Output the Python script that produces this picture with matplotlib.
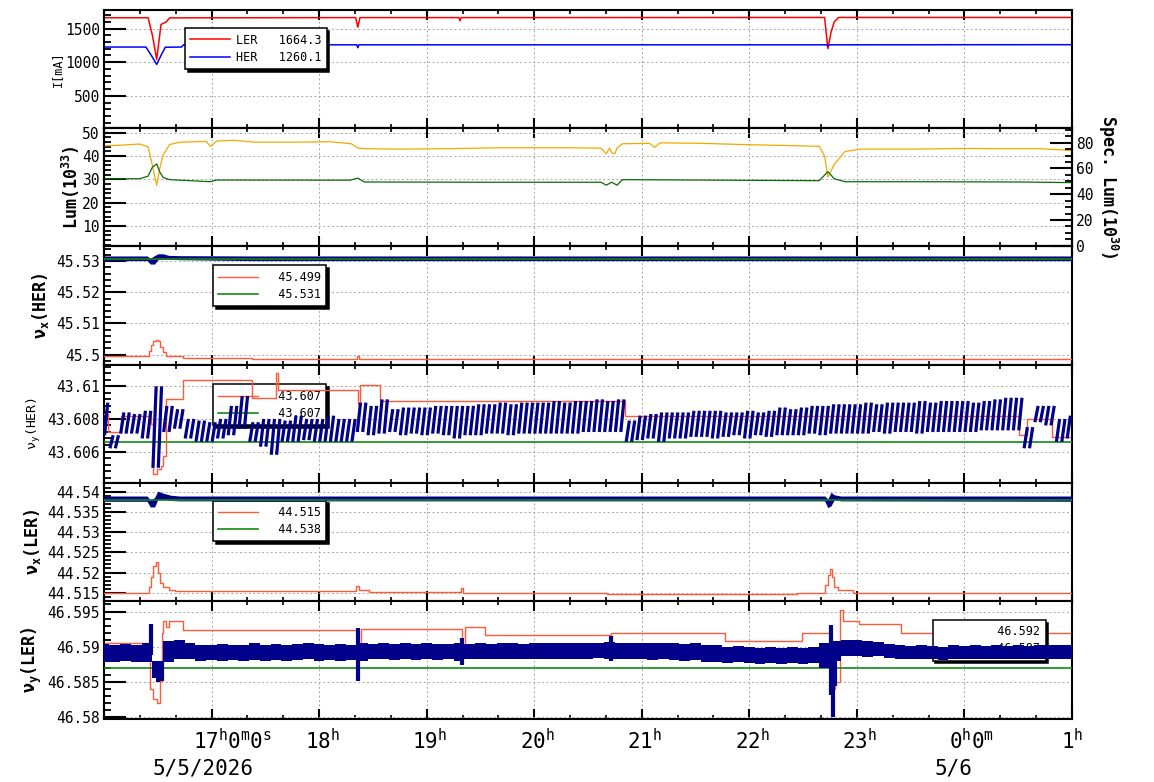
import numpy as np
import matplotlib
matplotlib.use('Agg')
import matplotlib.pyplot as plt
from matplotlib.ticker import MultipleLocator, FormatStrFormatter
from matplotlib.collections import LineCollection

plt.rcParams['font.family'] = ['DejaVu Sans Mono', 'DejaVu Sans']
plt.rcParams['mathtext.fontset'] = 'custom'
plt.rcParams['mathtext.rm'] = 'DejaVu Sans Mono'
plt.rcParams['mathtext.it'] = 'DejaVu Sans Mono'
plt.rcParams['mathtext.bf'] = 'DejaVu Sans Mono:bold'

# ---- data (time in hours from 5/5 0:00) ----
# beam currents
ler_t = [16.0, 16.41, 16.45, 16.49, 16.53, 16.58, 16.61, 18.34, 18.36, 18.38, 19.30, 19.31, 19.32,
         22.70, 22.73, 22.76, 22.79, 22.83, 25.0]
ler_i = [1660, 1660, 1400, 1040, 1560, 1600, 1658, 1662, 1520, 1662, 1662, 1615, 1662,
         1664, 1200, 1450, 1600, 1664, 1664]
her_t = [16.0, 16.39, 16.44, 16.49, 16.53, 16.57, 16.72, 16.74, 18.35, 18.36, 18.37, 22.72, 22.73, 22.75, 25.0]
her_i = [1225, 1225, 1100, 966, 1100, 1222, 1225, 1258, 1258, 1215, 1258, 1258, 1240, 1258, 1260]

# luminosity (left) and specific luminosity (right)
lum_t = [16.0, 16.2, 16.33, 16.41, 16.45, 16.49, 16.52, 16.55, 16.61, 16.71,
         16.95, 16.99, 17.05, 17.2, 17.4, 17.8, 18.1, 18.3, 18.36, 18.42,
         18.75, 19.2, 19.7, 20.3, 20.62, 20.67, 20.7, 20.72, 20.75, 20.77,
         20.82, 21.07, 21.12, 21.17, 21.54, 22.0, 22.4, 22.65, 22.70, 22.73,
         22.79, 22.89, 23.03, 23.5, 24.0, 24.33, 24.7, 25.0]
lum = [44.4, 44.8, 45.2, 44.0, 36.0, 27.5, 35.0, 40.6, 45.0, 46.0,
       46.3, 44.2, 46.5, 46.8, 46.0, 46.0, 46.2, 45.3, 43.5, 43.2,
       43.0, 43.2, 43.6, 43.6, 43.4, 41.0, 43.5, 41.5, 41.0, 43.5,
       45.3, 45.5, 43.8, 45.7, 45.5, 44.9, 44.5, 44.2, 40.0, 31.0,
       36.5, 42.0, 43.0, 43.0, 43.3, 43.2, 43.2, 42.4]
sl_t = [16.0, 16.33, 16.41, 16.45, 16.49, 16.52, 16.55, 16.61, 16.99, 17.05,
        18.29, 18.36, 18.42, 19.5, 20.62, 20.67, 20.72, 20.77, 20.82, 21.5,
        22.65, 22.73, 22.79, 22.89, 23.5, 24.5, 25.0]
spec_lum = [52.0, 52.0, 54.0, 61.0, 63.5, 57.0, 53.0, 51.3, 49.7, 51.0,
            50.9, 52.5, 49.5, 49.3, 49.3, 47.0, 49.3, 47.0, 51.3, 51.0,
            50.5, 57.5, 52.0, 49.7, 49.7, 49.5, 49.0]

# nu_x HER
hx_red_t = [16.0, 16.42, 16.44, 16.46, 16.48, 16.5, 16.52, 16.55, 16.58, 16.73, 17.38, 18.35, 18.37, 25.0]
hx_red = [45.4994, 45.5010, 45.5030, 45.5044, 45.5048, 45.5042, 45.5025, 45.5008, 45.4996, 45.4988,
          45.4985, 45.4995, 45.4985, 45.4985]
hx_ref = 45.5306
hx_t = [16.0, 16.40, 16.43, 16.47, 16.5, 16.55, 16.6, 16.7, 17.4, 25.0]
hx_lo = [45.5302, 45.5302, 45.5291, 45.5291, 45.5305, 45.5307, 45.5307, 45.5305, 45.5302, 45.5302]
hx_hi = [45.5317, 45.5317, 45.5310, 45.5318, 45.5324, 45.5324, 45.5319, 45.5318, 45.5317, 45.5317]

# nu_y HER
hy_red_t = [16.0, 16.04, 16.16, 16.44, 16.46, 16.49, 16.53, 16.55, 16.58, 16.73, 17.38, 17.60, 17.62,
            18.36, 18.38, 18.57, 20.84, 24.51, 24.58, 24.81, 25.0]
hy_red = [43.6083, 43.6072, 43.6082, 43.6077, 43.6046, 43.6049, 43.6051, 43.6057, 43.6092, 43.6104,
          43.6093, 43.6108, 43.6098, 43.6089, 43.6101, 43.6091, 43.6082, 43.6070, 43.6080, 43.6069, 43.6069]
hy_ref = 43.6066
t_grid = np.linspace(16.0, 25.0, 91)  # 6 minute samples
hy_lo = [43.6070, 43.6062, 43.6071, 43.6071, 43.6068, 43.6050, 43.6072, 43.6074, 43.6068, 43.6066,
         43.6066, 43.6068, 43.6070, 43.6074, 43.6066, 43.6063, 43.6058, 43.6066, 43.6066, 43.6067,
         43.6066, 43.6066, 43.6066, 43.6066, 43.6072, 43.6070, 43.6071, 43.6072, 43.6070, 43.6071,
         43.6070, 43.6071, 43.6070, 43.6068, 43.6070, 43.6070, 43.6071, 43.6071, 43.6070, 43.6071,
         43.6071, 43.6071, 43.6071, 43.6071, 43.6071, 43.6072, 43.6072, 43.6072, 43.6072, 43.6066,
         43.6067, 43.6068, 43.6066, 43.6068, 43.6068, 43.6069, 43.6069, 43.6068, 43.6069, 43.6070,
         43.6068, 43.6070, 43.6069, 43.6070, 43.6070, 43.6070, 43.6071, 43.6070, 43.6071, 43.6071,
         43.6071, 43.6071, 43.6072, 43.6071, 43.6072, 43.6072, 43.6071, 43.6072, 43.6072, 43.6072,
         43.6072, 43.6072, 43.6073, 43.6073, 43.6073, 43.6073, 43.6062, 43.6078, 43.6076, 43.6066,
         43.6068]
hy_hi = [43.6090, 43.6070, 43.6084, 43.6083, 43.6085, 43.6100, 43.6088, 43.6086, 43.6080, 43.6079,
         43.6078, 43.6080, 43.6088, 43.6094, 43.6078, 43.6080, 43.6080, 43.6079, 43.6082, 43.6080,
         43.6080, 43.6082, 43.6080, 43.6080, 43.6090, 43.6088, 43.6092, 43.6086, 43.6087, 43.6087,
         43.6087, 43.6088, 43.6088, 43.6088, 43.6088, 43.6089, 43.6089, 43.6090, 43.6089, 43.6090,
         43.6090, 43.6090, 43.6091, 43.6090, 43.6091, 43.6091, 43.6092, 43.6091, 43.6092, 43.6079,
         43.6082, 43.6083, 43.6084, 43.6084, 43.6084, 43.6085, 43.6085, 43.6085, 43.6084, 43.6084,
         43.6085, 43.6084, 43.6085, 43.6087, 43.6086, 43.6087, 43.6088, 43.6088, 43.6089, 43.6089,
         43.6089, 43.6090, 43.6089, 43.6090, 43.6090, 43.6090, 43.6091, 43.6090, 43.6091, 43.6091,
         43.6091, 43.6090, 43.6091, 43.6092, 43.6093, 43.6093, 43.6075, 43.6088, 43.6088, 43.6080,
         43.6082]

# nu_x LER
lx_red_t = [16.0, 16.42, 16.44, 16.46, 16.48, 16.5, 16.52, 16.55, 16.6, 16.66, 18.34, 18.37, 18.46,
            19.32, 19.34, 20.68, 22.44, 22.70, 22.73, 22.75, 22.77, 22.79, 22.82, 22.96, 25.0]
lx_red = [44.5149, 44.5165, 44.5190, 44.5215, 44.5226, 44.5200, 44.5175, 44.5164, 44.5158, 44.5154,
          44.5167, 44.5156, 44.5151, 44.5161, 44.5149, 44.5146, 44.5149, 44.5170, 44.5195, 44.5208,
          44.5190, 44.5165, 44.5156, 44.5149, 44.5149]
lx_ref = 44.5378
lx_t = [16.0, 16.40, 16.43, 16.47, 16.5, 16.55, 16.62, 16.7, 22.70, 22.73, 22.76, 22.79, 22.85, 25.0]
lx_lo = [44.5376, 44.5376, 44.5362, 44.5362, 44.5380, 44.5380, 44.5378, 44.5377, 44.5377, 44.5360,
         44.5365, 44.5380, 44.5377, 44.5376]
lx_hi = [44.5389, 44.5389, 44.5380, 44.5385, 44.5401, 44.5396, 44.5391, 44.5389, 44.5389, 44.5382,
         44.5398, 44.5392, 44.5389, 44.5389]

# nu_y LER
ly_red_t = [16.0, 16.43, 16.46, 16.49, 16.52, 16.54, 16.55, 16.58, 16.60, 16.73, 18.35, 18.39,
            19.33, 19.36, 19.54, 20.71, 21.77, 22.49, 22.76, 22.78, 22.80, 22.84, 22.87, 23.02, 23.41, 25.0]
ly_red = [46.5906, 46.5840, 46.5826, 46.5821, 46.5851, 46.5920, 46.5937, 46.5928, 46.5937, 46.5924,
          46.5888, 46.5925, 46.5902, 46.5928, 46.5917, 46.5919, 46.5908, 46.5919, 46.5876, 46.5840,
          46.5850, 46.5952, 46.5937, 46.5932, 46.5920, 46.5920]
ly_ref = 46.5870
ly_lo = [46.5879, 46.5878, 46.5880, 46.5879, 46.5878, 46.5856, 46.5878, 46.5882, 46.5882, 46.5880,
         46.5881, 46.5880, 46.5881, 46.5880, 46.5881, 46.5880, 46.5881, 46.5880, 46.5881, 46.5882,
         46.5880, 46.5881, 46.5880, 46.5881, 46.5880, 46.5882, 46.5882, 46.5881, 46.5882, 46.5881,
         46.5882, 46.5881, 46.5882, 46.5880, 46.5882, 46.5883, 46.5882, 46.5883, 46.5882, 46.5883,
         46.5883, 46.5882, 46.5883, 46.5882, 46.5883, 46.5883, 46.5884, 46.5883, 46.5882, 46.5883,
         46.5882, 46.5881, 46.5882, 46.5881, 46.5880, 46.5881, 46.5879, 46.5878, 46.5877, 46.5878,
         46.5877, 46.5876, 46.5877, 46.5876, 46.5877, 46.5876, 46.5877, 46.5870, 46.5880, 46.5887,
         46.5887, 46.5886, 46.5887, 46.5884, 46.5883, 46.5882, 46.5883, 46.5882, 46.5881, 46.5882,
         46.5882, 46.5883, 46.5882, 46.5883, 46.5882, 46.5883, 46.5882, 46.5883, 46.5882, 46.5883,
         46.5883]
ly_hi = [46.5904, 46.5903, 46.5904, 46.5903, 46.5905, 46.5880, 46.5908, 46.5910, 46.5905, 46.5903,
         46.5902, 46.5904, 46.5903, 46.5903, 46.5905, 46.5903, 46.5904, 46.5902, 46.5904, 46.5905,
         46.5904, 46.5903, 46.5904, 46.5903, 46.5906, 46.5904, 46.5905, 46.5904, 46.5905, 46.5904,
         46.5905, 46.5904, 46.5904, 46.5906, 46.5904, 46.5905, 46.5904, 46.5905, 46.5905, 46.5904,
         46.5905, 46.5906, 46.5905, 46.5906, 46.5905, 46.5906, 46.5906, 46.5907, 46.5906, 46.5905,
         46.5906, 46.5905, 46.5905, 46.5906, 46.5904, 46.5905, 46.5903, 46.5902, 46.5900, 46.5901,
         46.5900, 46.5899, 46.5900, 46.5899, 46.5900, 46.5899, 46.5900, 46.5905, 46.5908, 46.5909,
         46.5909, 46.5908, 46.5907, 46.5904, 46.5902, 46.5901, 46.5902, 46.5901, 46.5900, 46.5902,
         46.5901, 46.5902, 46.5901, 46.5902, 46.5901, 46.5902, 46.5901, 46.5902, 46.5902, 46.5903,
         46.5903]
ly_sp_t = [16.44, 16.50, 16.54, 18.36, 19.33, 20.71, 22.76, 22.78, 22.80]
ly_sp_lo = [46.5888, 46.5850, 46.5852, 46.5852, 46.5874, 46.5880, 46.5832, 46.5800, 46.5845]
ly_sp_hi = [46.5933, 46.5872, 46.5880, 46.5927, 46.5912, 46.5915, 46.5931, 46.5862, 46.5880]

tick_hours = [17, 18, 19, 20, 21, 22, 23, 24, 25]
tick_text = [r'17$^{\mathrm{h}}$0$^{\mathrm{m}}$0$^{\mathrm{s}}$', r'18$^{\mathrm{h}}$', r'19$^{\mathrm{h}}$',
             r'20$^{\mathrm{h}}$', r'21$^{\mathrm{h}}$', r'22$^{\mathrm{h}}$', r'23$^{\mathrm{h}}$',
             r'0$^{\mathrm{h}}$0$^{\mathrm{m}}$', r'1$^{\mathrm{h}}$']

RED = '#ff5a3c'
GREEN = '#128a12'
NAVY = '#00008b'

# ---- figure ----
fig = plt.figure(figsize=(11.54, 7.82), dpi=100)
gs = fig.add_gridspec(6, 1, left=104 / 1154, right=1072 / 1154, top=1 - 10 / 782,
                      bottom=1 - 719 / 782, hspace=0)
axes = [fig.add_subplot(gs[0])]
for i in range(1, 6):
    axes.append(fig.add_subplot(gs[i], sharex=axes[0]))


def style(ax, ylim, major, minor):
    ax.set_xlim(16, 25)
    ax.set_ylim(*ylim)
    ax.xaxis.set_major_locator(MultipleLocator(1))
    ax.xaxis.set_minor_locator(MultipleLocator(1 / 3))
    ax.yaxis.set_major_locator(MultipleLocator(major))
    ax.yaxis.set_minor_locator(MultipleLocator(minor))
    ax.yaxis.set_major_formatter(FormatStrFormatter('%g'))
    ax.tick_params(axis='x', which='major', direction='in', top=True, bottom=True,
                   length=7, width=1.5, labelbottom=False)
    ax.tick_params(axis='x', which='minor', direction='in', top=True, bottom=True, length=3, width=1.2)
    ax.tick_params(axis='y', which='major', direction='in', left=True, right=False,
                   length=16, width=1.5, labelsize=10.5, pad=3)
    ax.tick_params(axis='y', which='minor', direction='in', left=True, right=False, length=5, width=1.3)
    ax.grid(True, which='major', color='#a8a8a8', linestyle=(0, (2, 2.5)), linewidth=0.7)
    for s in ax.spines.values():
        s.set_linewidth(1.5)


def add_legend(ax, handles, labels, anchor):
    leg = ax.legend(handles, labels, loc='upper left', bbox_to_anchor=anchor, borderaxespad=0,
                    prop={'family': 'DejaVu Sans Mono', 'size': 8.5}, handlelength=3.4,
                    handletextpad=0.45, labelspacing=0.35, borderpad=0.45, fancybox=False,
                    framealpha=1, edgecolor='black', shadow={'color': 'black', 'alpha': 1})
    leg.get_frame().set_linewidth(1.1)
    leg.set_zorder(2.5)
    return leg


# panel 1: currents
ax = axes[0]
style(ax, (20, 1775), 500, 100)
l1, = ax.plot(ler_t, ler_i, color='red', lw=1.1)
l2, = ax.plot(her_t, her_i, color='blue', lw=1.1)
add_legend(ax, [l1, l2], ['LER   1664.3', 'HER   1260.1'], (0.0837, 0.846))
ax.set_ylabel('I[mA]', fontsize=8.5, va='center')
ax.yaxis.set_label_coords(-0.0486, 0.5)

# panel 2: luminosity
ax = axes[1]
style(ax, (1.3, 52), 10, 2)
ax.plot(lum_t, lum, color='#f2a900', lw=0.9)
ax.set_ylabel(r'Lum(10$^{\mathbf{33}}$)', fontsize=12, fontweight='bold', va='center')
ax.yaxis.set_label_coords(-0.034, 0.5)
ax2 = ax.twinx()
ax2.set_ylim(-0.5, 91.3)
ax2.plot(sl_t, spec_lum, color='#0a6a0a', lw=0.9)
ax2.yaxis.set_major_locator(MultipleLocator(20))
ax2.yaxis.set_minor_locator(MultipleLocator(5))
ax2.tick_params(axis='y', which='major', direction='in', length=16, width=1.5, labelsize=10.5, pad=3)
ax2.tick_params(axis='y', which='minor', direction='in', length=5, width=1.3)
for s in ax2.spines.values():
    s.set_linewidth(1.5)
ax2.set_ylabel(r'Spec. Lum(10$^{\mathbf{30}}$)', fontsize=12, fontweight='bold',
               rotation=270, va='center')
ax2.yaxis.set_label_coords(1.037, 0.5)

# panel 3: nu_x HER
ax = axes[2]
style(ax, (45.4968, 45.5348), 0.01, 0.002)
ax.fill_between(hx_t, hx_lo, hx_hi, color=NAVY, lw=0, zorder=4)
r3, = ax.plot(hx_red_t, hx_red, color=RED, lw=1.0, drawstyle='steps-post', zorder=3)
g3 = ax.axhline(hx_ref, color=GREEN, lw=1.2, zorder=5)
add_legend(ax, [r3, g3], ['  45.499', '  45.531'], (0.1126, 0.839))
ax.set_ylabel(r'ν$_{\mathbf{x}}$(HER)', fontsize=12, fontweight='bold', va='center')
ax.yaxis.set_label_coords(-0.066, 0.5)

# panel 4: nu_y HER (sawtooth drift drawn as short slanted strokes, two per sample)
ax = axes[3]
style(ax, (43.60409, 43.61134), 0.002, 0.0004)
g4 = ax.axhline(hy_ref, color=GREEN, lw=1.2, zorder=3)
r4, = ax.plot(hy_red_t, hy_red, color=RED, lw=1.0, drawstyle='steps-post', zorder=3.5)
segs = []
for t, lo, hi in zip(t_grid, hy_lo, hy_hi):
    segs.append([(t - 0.045, lo), (t - 0.015, hi)])
    segs.append([(t + 0.005, lo), (t + 0.035, hi)])
ax.add_collection(LineCollection(segs, colors=NAVY, linewidths=2.3, zorder=4))
add_legend(ax, [r4, g4], ['  43.607', '  43.607'], (0.1126, 0.832))
ax.set_ylabel(r'ν$_{\mathrm{y}}$(HER)', fontsize=9.5, va='center')
ax.yaxis.set_label_coords(-0.072, 0.5)

# panel 5: nu_x LER
ax = axes[4]
style(ax, (44.5130, 44.5422), 0.005, 0.001)
ax.fill_between(lx_t, lx_lo, lx_hi, color=NAVY, lw=0, zorder=4)
r5, = ax.plot(lx_red_t, lx_red, color=RED, lw=1.0, drawstyle='steps-post', zorder=3)
g5 = ax.axhline(lx_ref, color=GREEN, lw=1.2, zorder=5)
add_legend(ax, [r5, g5], ['  44.515', '  44.538'], (0.1126, 0.849))
ax.set_ylabel(r'ν$_{\mathbf{x}}$(LER)', fontsize=12, fontweight='bold', va='center')
ax.yaxis.set_label_coords(-0.074, 0.5)

# panel 6: nu_y LER
ax = axes[5]
style(ax, (46.57976, 46.59652), 0.005, 0.001)
g6 = ax.axhline(ly_ref, color=GREEN, lw=1.2, zorder=3)
r6, = ax.plot(ly_red_t, ly_red, color=RED, lw=1.0, drawstyle='steps-post', zorder=2)
ax.fill_between(t_grid, ly_lo, ly_hi, step='mid', color=NAVY, lw=0, zorder=4)
ax.vlines(ly_sp_t, ly_sp_lo, ly_sp_hi, color=NAVY, lw=3, zorder=4)
leg6 = add_legend(ax, [r6, g6], ['  46.592', '  46.587'], (0.856, 0.839))
leg6.get_lines()[0].set_visible(False)
ax.set_ylabel(r'ν$_{\mathbf{y}}$(LER)', fontsize=12, fontweight='bold', va='center')
ax.yaxis.set_label_coords(-0.075, 0.5)

# time labels under the last panel
label_dx = [21, 3, 3, 3, 3, 3, 3, 7, 0]
for h, txt, dx in zip(tick_hours, tick_text, label_dx):
    ax.annotate(txt, xy=(h, 0), xycoords=('data', 'axes fraction'), xytext=(dx, -22),
                textcoords='offset pixels', ha='center', va='center', fontsize=15,
                annotation_clip=False)
ax.annotate('5/5/2026', xy=(17, 0), xycoords=('data', 'axes fraction'), xytext=(-9, -49),
            textcoords='offset pixels', ha='center', va='center', fontsize=15, annotation_clip=False)
ax.annotate('5/6', xy=(24, 0), xycoords=('data', 'axes fraction'), xytext=(-11, -49),
            textcoords='offset pixels', ha='center', va='center', fontsize=15, annotation_clip=False)

fig.savefig('out.png', dpi=100)
